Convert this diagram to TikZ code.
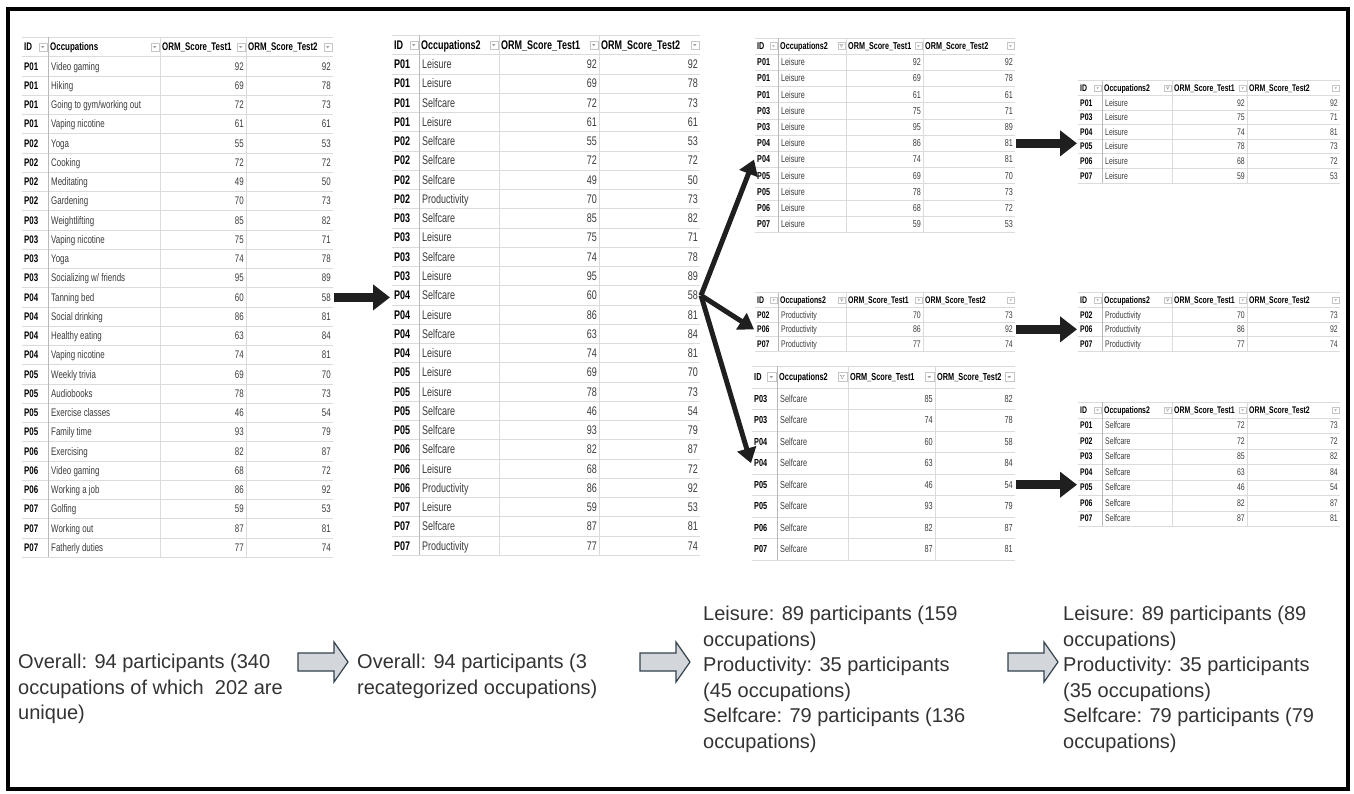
\documentclass[tikz,border=0pt]{standalone}
\usepackage{fontspec}
\usetikzlibrary{arrows.meta}

\newfontfamily\tabfont[FakeStretch=0.72]{Liberation Sans}
\newfontfamily\notefont{Liberation Sans}

\definecolor{celltext}{HTML}{3A3A3A}
\definecolor{notetext}{HTML}{333333}
\definecolor{arrfill}{HTML}{D3D6DA}
\definecolor{arrline}{HTML}{34414E}

\tikzset{
  gridln/.style={draw=gray!28, line width=0.5pt},
  idline/.style={draw=gray!55, line width=0.6pt},
  hdrtxt/.style={anchor=base west, inner sep=0pt, font=\tabfont\fontsize{\tfs}{\tfs}\selectfont\bfseries},
  idtxt/.style={hdrtxt},
  occtxt/.style={anchor=base west, inner sep=0pt, text=celltext, font=\tabfont\fontsize{\tfs}{\tfs}\selectfont},
  numtxt/.style={occtxt, anchor=base east},
  ddbox/.style={draw=gray!45, fill=white, line width=0.4pt, inner sep=0pt, minimum size=\ddsz pt,
    path picture={\fill[gray!75] ([xshift=-\tw pt, yshift=0.5*\tw pt]path picture bounding box.center)
      -- ++(2*\tw pt,0) -- ++(-\tw pt,-1.2*\tw pt) -- cycle;}},
  ddfilt/.style={draw=gray!45, fill=white, line width=0.4pt, inner sep=0pt, minimum size=\ddsz pt,
    path picture={\draw[gray!80, line width=0.35pt] ([xshift=-1.2*\tw pt, yshift=\tw pt]path picture bounding box.center)
      -- ++(2.4*\tw pt,0) -- ++(-0.9*\tw pt,-\tw pt) -- ++(0,-0.9*\tw pt) -- ++(-0.6*\tw pt,0) -- ++(0,0.9*\tw pt) -- cycle;}},
  bigarrow/.style={line width=9pt, black!88, -{Triangle[length=17pt,width=25pt]}},
  fanarrow/.style={line width=5pt, black!88, -{Triangle[length=15pt,width=19pt]}},
  grayarr/.style={draw=arrline, fill=arrfill, line width=1.2pt, line join=miter},
  note/.style={anchor=north west, align=left, inner sep=0pt, text=notetext, font=\notefont\fontsize{20}{25.5}\selectfont}
}

% column edges and row layout of the next table
\newcommand{\tblgeom}[5]{\def\cA{#1}\def\cB{#2}\def\cC{#3}\def\cD{#4}\def\cE{#5}}
\newcommand{\tblrows}[3]{\def\ry{#1}\def\rh{#2}\def\tfs{#3}}

% #1 name, #2 occupation header, #3 icon style, #4 rows, #5 data
\newcommand{\drawtbl}[5]{%
  \pgfmathsetmacro\ttop{\ry-0.5*\rh}%
  \pgfmathsetmacro\tbot{\ry+(#4+0.5)*\rh}%
  \pgfmathsetmacro\ddsz{0.42*\rh}%
  \pgfmathsetmacro\tw{0.2*\ddsz}%
  \pgfmathsetmacro\ddo{0.5*\ddsz+1.2}%
  \pgfmathsetmacro\bo{0.36*\tfs}%
  % grid
  \foreach \k in {0,...,#4}
    \draw[gridln] (\cA,\ry+\k*\rh+0.5*\rh) -- (\cE,\ry+\k*\rh+0.5*\rh);
  \draw[gridln] (\cA,\ttop) -- (\cE,\ttop);
  \draw[idline] (\cB,\ttop) -- (\cB,\tbot);
  \draw[gridln] (\cC,\ttop) -- (\cC,\tbot);
  \draw[gridln] (\cD,\ttop) -- (\cD,\tbot);
  % header
  \node[hdrtxt] (#1-hid) at (\cA+2,\ry+\bo) {ID};
  \node[hdrtxt] (#1-hocc) at (\cB+2,\ry+\bo) {#2};
  \node[hdrtxt] (#1-ht1) at (\cC+2,\ry+\bo) {ORM\_Score\_Test1};
  \node[hdrtxt] (#1-ht2) at (\cD+2,\ry+\bo) {ORM\_Score\_Test2};
  \node[ddbox] (#1-dd1) at (\cB-\ddo,\ry) {};
  \node[#3] (#1-dd2) at (\cC-\ddo,\ry) {};
  \node[ddbox] (#1-dd3) at (\cD-\ddo,\ry) {};
  \node[ddbox] (#1-dd4) at (\cE-\ddo,\ry) {};
  % rows
  \foreach \id/\occ/\a/\b [count=\i] in {#5} {
    \node[idtxt] (#1-\i-id) at (\cA+2,\ry+\i*\rh+\bo) {\id};
    \node[occtxt] (#1-\i-occ) at (\cB+3,\ry+\i*\rh+\bo) {\occ};
    \node[numtxt] (#1-\i-a) at (\cD-2,\ry+\i*\rh+\bo) {\a};
    \node[numtxt] (#1-\i-b) at (\cE-2,\ry+\i*\rh+\bo) {\b};
  }
}

\begin{document}
\begin{tikzpicture}[x=1pt,y=-1pt]
  \useasboundingbox (0,0) rectangle (1354,794);
  % Frame
  \draw[line width=3.5pt] (8,9) rectangle (1348,789);

  % Table 1: occupations as reported
  \tblgeom{22}{48}{160}{246}{333}
  \tblrows{47}{19.25}{11}
  \drawtbl{t1}{Occupations}{ddbox}{26}{P01/Video gaming/92/92, P01/Hiking/69/78,
    P01/{Going to gym/working out}/72/73, P01/Vaping nicotine/61/61,
    P02/Yoga/55/53, P02/Cooking/72/72, P02/Meditating/49/50, P02/Gardening/70/73,
    P03/Weightlifting/85/82, P03/Vaping nicotine/75/71, P03/Yoga/74/78,
    P03/{Socializing w/ friends}/95/89, P04/Tanning bed/60/58, P04/Social drinking/86/81,
    P04/Healthy eating/63/84, P04/Vaping nicotine/74/81, P05/Weekly trivia/69/70,
    P05/Audiobooks/78/73, P05/Exercise classes/46/54, P05/Family time/93/79,
    P06/Exercising/82/87, P06/Video gaming/68/72, P06/Working a job/86/92,
    P07/Golfing/59/53, P07/Working out/87/81, P07/Fatherly duties/77/74}

  % Table 2: recategorized
  \tblgeom{392}{419}{499}{599}{700}
  \tblrows{45}{19.25}{12.5}
  \drawtbl{t2}{Occupations2}{ddbox}{26}{P01/Leisure/92/92, P01/Leisure/69/78,
    P01/Selfcare/72/73, P01/Leisure/61/61, P02/Selfcare/55/53, P02/Selfcare/72/72,
    P02/Selfcare/49/50, P02/Productivity/70/73, P03/Selfcare/85/82, P03/Leisure/75/71,
    P03/Selfcare/74/78, P03/Leisure/95/89, P04/Selfcare/60/58, P04/Leisure/86/81,
    P04/Selfcare/63/84, P04/Leisure/74/81, P05/Leisure/69/70, P05/Leisure/78/73,
    P05/Selfcare/46/54, P05/Selfcare/93/79, P06/Selfcare/82/87, P06/Leisure/68/72,
    P06/Productivity/86/92, P07/Leisure/59/53, P07/Selfcare/87/81, P07/Productivity/77/74}

  % Tables 3: split by category
  \tblgeom{755}{778}{846}{923}{1015}
  \tblrows{46}{16.2}{10}
  \drawtbl{t3a}{Occupations2}{ddfilt}{11}{P01/Leisure/92/92, P01/Leisure/69/78,
    P01/Leisure/61/61, P03/Leisure/75/71, P03/Leisure/95/89, P04/Leisure/86/81,
    P04/Leisure/74/81, P05/Leisure/69/70, P05/Leisure/78/73, P06/Leisure/68/72,
    P07/Leisure/59/53}
  \tblrows{300}{14.6}{9.6}
  \drawtbl{t3b}{Occupations2}{ddfilt}{3}{P02/Productivity/70/73,
    P06/Productivity/86/92, P07/Productivity/77/74}
  \tblgeom{752}{777}{848}{935}{1015}
  \tblrows{377}{21.5}{10.2}
  \drawtbl{t3c}{Occupations2}{ddfilt}{8}{P03/Selfcare/85/82, P03/Selfcare/74/78,
    P04/Selfcare/60/58, P04/Selfcare/63/84, P05/Selfcare/46/54, P05/Selfcare/93/79,
    P06/Selfcare/82/87, P07/Selfcare/87/81}

  % Tables 4: one occupation per participant
  \tblgeom{1078}{1102}{1172}{1247}{1340}
  \tblrows{88}{14.6}{9.6}
  \drawtbl{t4a}{Occupations2}{ddfilt}{6}{P01/Leisure/92/92, P03/Leisure/75/71,
    P04/Leisure/74/81, P05/Leisure/78/73, P06/Leisure/68/72, P07/Leisure/59/53}
  \tblrows{300}{14.6}{9.6}
  \drawtbl{t4b}{Occupations2}{ddfilt}{3}{P02/Productivity/70/73,
    P06/Productivity/86/92, P07/Productivity/77/74}
  \tblrows{410}{15.5}{9.6}
  \drawtbl{t4c}{Occupations2}{ddfilt}{7}{P01/Selfcare/72/73, P02/Selfcare/72/72,
    P03/Selfcare/85/82, P04/Selfcare/63/84, P05/Selfcare/46/54, P06/Selfcare/82/87,
    P07/Selfcare/87/81}

  % Black arrows between tables
  \draw[bigarrow] ([xshift=3pt]t1-13-b.east) -- ([xshift=-4pt]t2-13-id.west |- t1-13-b.east);
  \coordinate (split) at ([xshift=3pt]t2-13-b.east);
  \draw[fanarrow] (split) -- ([xshift=-3pt]t3a-7-id.west);
  \draw[fanarrow] (split) -- ([xshift=-3pt]t3b-2-id.west);
  \draw[fanarrow] (split) -- ([xshift=-3pt]t3c-4-id.west);
  \draw[bigarrow] ([xshift=3pt]t3a-6-b.east) -- ([xshift=-3pt]t4a-3-id.west |- t3a-6-b.east);
  \draw[bigarrow] ([xshift=3pt]t3b-2-b.east) -- ([xshift=-3pt]t4b-2-id.west);
  \draw[bigarrow] ([xshift=3pt]t3c-5-b.east) -- ([xshift=-3pt]t4c-4-id.west |- t3c-5-b.east);

  % Summaries
  \node[note] (sum1) at (18,654) {Overall: 94 participants (340\\occupations of which\ \ 202 are\\unique)};
  \node[note] (sum2) at (357,654) {Overall: 94 participants (3\\recategorized occupations)};
  \node[note] (sum3) at (703,606) {Leisure: 89 participants (159\\occupations)\\Productivity: 35 participants\\(45 occupations)\\Selfcare: 79 participants (136\\occupations)};
  \node[note] (sum4) at (1063,606) {Leisure: 89 participants (89\\occupations)\\Productivity: 35 participants\\(35 occupations)\\Selfcare: 79 participants (79\\occupations)};

  % Gray arrows between summaries
  \coordinate (g1) at (298,662);
  \coordinate (g2) at (640,662);
  \coordinate (g3) at (1008,662);
  \foreach \g in {g1,g2,g3}
    \draw[grayarr] (\g) ++(0,-9) -- ++(36,0) -- ++(0,-11) -- ++(14,20) -- ++(-14,20) -- ++(0,-11) -- ++(-36,0) -- cycle;
\end{tikzpicture}
\end{document}
